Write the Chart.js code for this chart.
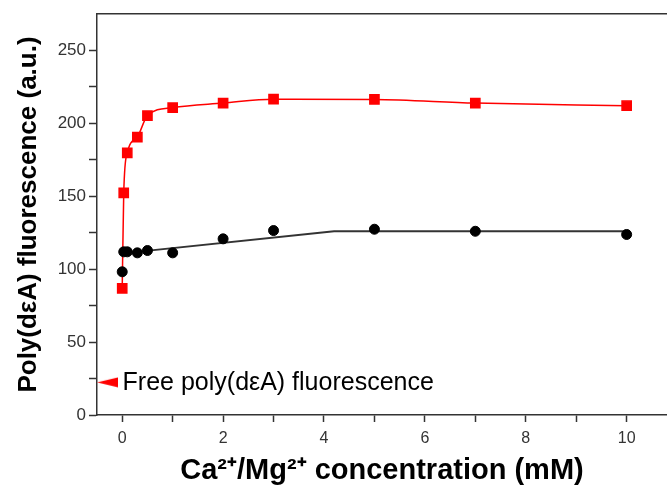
<!DOCTYPE html>
<html>
<head>
<meta charset="utf-8">
<script src="https://cdn.jsdelivr.net/npm/chart.js@4.4.1/dist/chart.umd.min.js"></script>
<style>
  html, body { margin: 0; padding: 0; background: #fff; }
  #wrap { width: 667px; height: 493px; }
</style>
</head>
<body>
<div id="wrap"><canvas id="myChart"></canvas></div>
<script>
// Ca/Mg concentration (mM)
var conc = [0, 0.03, 0.1, 0.3, 0.5, 1, 2, 3, 5, 7, 10];
// red squares
var redVals = [86.8, 152.3, 179.7, 190.6, 205.3, 210.8, 213.9, 216.6, 216.4, 213.9, 212.1];
// black circles
var blackX = [0, 0.03, 0.1, 0.3, 0.5, 1, 2, 3, 5, 7, 10];
var blackVals = [98.2, 111.9, 111.9, 111.2, 112.8, 111.2, 120.8, 126.5, 127.4, 126.0, 123.8];
// black fit line
var fitX = [0.05, 4.2, 10];
var fitVals = [111, 126, 126];
// free poly(dεA) level marker
var freeX = [-0.29];
var freeVals = [22.4];
var freeLabel = 'Free poly(d\u03b5A) fluorescence';

var xTicks = [0, 1, 2, 3, 4, 5, 6, 7, 8, 9, 10];
var yTicks = [0, 25, 50, 75, 100, 125, 150, 175, 200, 225, 250];

function pts(xs, ys) {
  return xs.map(function(x, i) { return { x: x, y: ys[i] }; });
}

var FONT = "'Liberation Sans', Arial, sans-serif";

// flat left-pointing arrow head used as marker
var arrow = document.createElement('canvas');
arrow.width = 21;
arrow.height = 11;
(function() {
  var a = arrow.getContext('2d');
  a.fillStyle = '#ff0000';
  a.beginPath();
  a.moveTo(0, 5.5);
  a.lineTo(21, 0.5);
  a.lineTo(21, 10.5);
  a.closePath();
  a.fill();
})();

var freeText = {
  id: 'freeText',
  afterDatasetsDraw: function(chart) {
    var c = chart.ctx;
    var xs = chart.scales.x, ys = chart.scales.y;
    c.save();
    c.font = '25px ' + FONT;
    c.fillStyle = '#000';
    c.textBaseline = 'middle';
    c.fillText(freeLabel, xs.getPixelForValue(freeX[0]) + 15, ys.getPixelForValue(freeVals[0]) + 1);
    c.restore();
  }
};

window.onload = function() {
  var ctx = document.getElementById('myChart').getContext('2d');
  var myChart = new Chart(ctx, {
    type: 'scatter',
    data: {
      datasets: [{
        label: 'black',
        data: pts(blackX, blackVals),
        showLine: false,
        pointStyle: 'circle',
        pointRadius: 5,
        backgroundColor: '#000',
        borderColor: '#000'
      }, {
        label: 'fit',
        data: pts(fitX, fitVals),
        showLine: true,
        pointRadius: 0,
        borderColor: '#333',
        borderWidth: 1.8
      }, {
        label: 'red',
        data: pts(conc, redVals),
        showLine: true,
        cubicInterpolationMode: 'monotone',
        pointStyle: 'rect',
        pointRadius: 6.5,
        backgroundColor: '#ff0000',
        borderColor: '#ff0000',
        borderWidth: 1.5
      }, {
        label: 'free',
        data: pts(freeX, freeVals),
        showLine: false,
        pointStyle: arrow,
        pointRadius: 10
      }]
    },
    options: {
      responsive: true,
      maintainAspectRatio: false,
      animation: false,
      layout: { padding: 0, autoPadding: false },
      plugins: {
        legend: { display: false },
        tooltip: { enabled: false }
      },
      scales: {
        x: {
          type: 'linear',
          min: -0.5,
          max: 10.8,
          afterBuildTicks: function(s) { s.ticks = xTicks.map(function(v) { return { value: v }; }); },
          afterFit: function(s) { s.height = 78; },
          ticks: {
            color: '#333',
            font: { family: FONT, size: 16 },
            padding: 7,
            maxRotation: 0,
            autoSkip: false,
            callback: function(v) { return v % 2 === 0 ? v : ''; }
          },
          grid: { drawOnChartArea: false, tickLength: 7, tickColor: '#333', tickWidth: 1.5 },
          border: { color: '#333', width: 1.5 },
          title: {
            display: true,
            text: 'Ca\u00b2\u207a/Mg\u00b2\u207a concentration (mM)',
            color: '#000',
            font: { family: FONT, size: 29, weight: 'bold' },
            padding: { top: 0, bottom: 5 }
          }
        },
        x2: {
          type: 'linear',
          position: 'top',
          min: -0.5,
          max: 10.8,
          afterFit: function(s) { s.height = 14; },
          ticks: { display: false },
          grid: { drawOnChartArea: false, drawTicks: false },
          border: { color: '#333', width: 1.5 }
        },
        y: {
          min: 0,
          max: 275,
          afterBuildTicks: function(s) { s.ticks = yTicks.map(function(v) { return { value: v }; }); },
          afterFit: function(s) { s.width = 97; },
          ticks: {
            color: '#333',
            font: { family: FONT, size: 17 },
            padding: 3,
            autoSkip: false,
            callback: function(v) { return v % 50 === 0 ? v : ''; }
          },
          grid: { drawOnChartArea: false, tickLength: 8, tickColor: '#333', tickWidth: 1.5 },
          border: { color: '#333', width: 1.5 },
          title: {
            display: true,
            text: 'Poly(d\u03b5A) fluorescence (a.u.)',
            color: '#000',
            font: { family: FONT, size: 26, weight: 'bold' },
            padding: { top: 13, bottom: 0 }
          }
        }
      }
    },
    plugins: [freeText]
  });
};
</script>
</body>
</html>
